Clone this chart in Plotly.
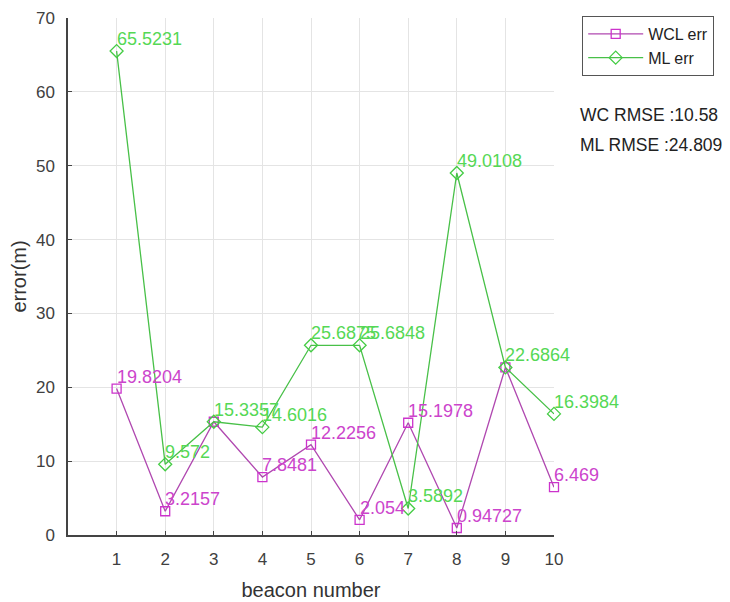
import plotly.graph_objects as go

beacons = [1, 2, 3, 4, 5, 6, 7, 8, 9, 10]
wcl_err = [19.8204, 3.2157, 15.3357, 7.8481, 12.2256, 2.054, 15.1978, 0.94727, 22.6864, 6.469]
ml_err = [65.5231, 9.572, 15.3357, 14.6016, 25.6875, 25.6848, 3.5892, 49.0108, 22.6864, 16.3984]
wcl_labels = ["19.8204", "3.2157", "", "7.8481", "12.2256", "2.054", "15.1978", "0.94727", "", "6.469"]
ml_labels = ["65.5231", "9.572", "15.3357", "14.6016", "25.6875", "25.6848", "3.5892", "49.0108", "22.6864", "16.3984"]
rmse_texts = ["WC RMSE :10.58", "ML RMSE :24.809"]

FONT = "Liberation Sans, Arial, sans-serif"
WCL_TXT = "#cc44cc"
ML_TXT = "#55d855"

fig = go.Figure()
fig.add_trace(go.Scatter(
    x=beacons, y=wcl_err, name="WCL err", mode="lines+markers",
    line=dict(color="#b048b0", width=1.3),
    marker=dict(symbol="square-open", size=9, color="#cc33cc", line=dict(width=1.3)),
    cliponaxis=False,
))
fig.add_trace(go.Scatter(
    x=beacons, y=ml_err, name="ML err", mode="lines+markers",
    line=dict(color="#48c048", width=1.3),
    marker=dict(symbol="diamond-open", size=10, color="#44cc44", line=dict(width=1.3)),
    cliponaxis=False,
))

for xs, ys, labs, col in [(beacons, ml_err, ml_labels, ML_TXT), (beacons, wcl_err, wcl_labels, WCL_TXT)]:
    for xv, yv, lab in zip(xs, ys, labs):
        if not lab:
            continue
        fig.add_annotation(x=xv, y=yv, text=lab, showarrow=False, xanchor="left", yanchor="middle",
                           xshift=-2, yshift=12, font=dict(size=18, color=col, family=FONT))

for i, t in enumerate(rmse_texts):
    fig.add_annotation(x=1.049, y=0.813 - i * 0.058, xref="paper", yref="paper",
                       text=t, showarrow=False, xanchor="left", yanchor="middle",
                       font=dict(size=17.5, color="#222222", family=FONT))

fig.update_layout(
    width=722, height=594,
    margin=dict(l=60, r=176, t=8, b=67),
    paper_bgcolor="white", plot_bgcolor="white",
    font=dict(family=FONT, color="#404040"),
    showlegend=True,
    legend=dict(x=1.058, y=1.004, xanchor="left", yanchor="top",
                bordercolor="#555555", borderwidth=1, bgcolor="white",
                font=dict(size=16, color="#222222"), tracegroupgap=0, itemwidth=55),
    xaxis=dict(range=[0, 10], tickvals=beacons, showgrid=True, gridcolor="#e4e4e4",
               showline=True, linecolor="#444444", linewidth=1.5, ticks="inside", ticklen=4,
               tickcolor="#444444", zeroline=False, tickfont=dict(size=17, color="#404040"),
               ticklabelstandoff=8, automargin=False,
               title=dict(text="beacon number", font=dict(size=20, color="#333333"))),
    yaxis=dict(range=[0, 70], dtick=10, showgrid=True, gridcolor="#e4e4e4",
               showline=True, linecolor="#444444", linewidth=1.5, ticks="inside", ticklen=4,
               tickcolor="#444444", zeroline=False, tickfont=dict(size=17, color="#404040"),
               ticklabelstandoff=8, automargin=False,
               title=dict(text="error(m)", font=dict(size=20, color="#333333"))),
)
fig.write_html("out.html")
